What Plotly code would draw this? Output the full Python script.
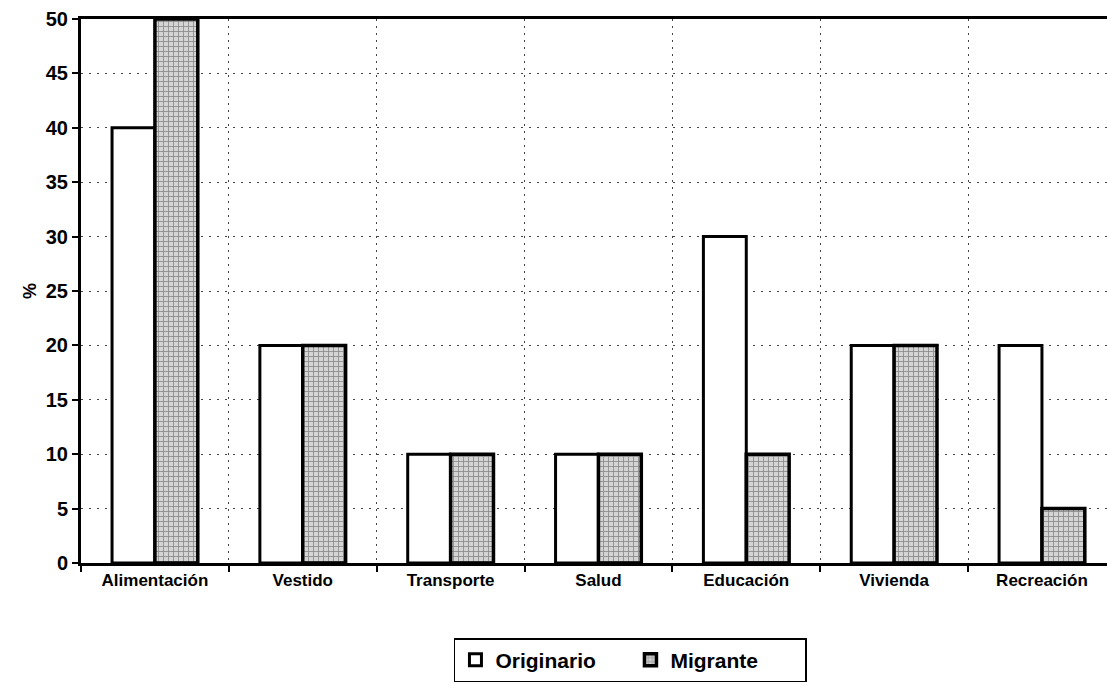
import plotly.graph_objects as go

categorias = ["Alimentación", "Vestido", "Transporte", "Salud", "Educación", "Vivienda", "Recreación"]
originario = [40, 20, 10, 10, 30, 20, 20]
migrante = [50, 20, 10, 10, 10, 20, 5]
y_ticks = [0, 5, 10, 15, 20, 25, 30, 35, 40, 45, 50]

font_fam = "Liberation Sans, Arial, sans-serif"

fig = go.Figure()
fig.add_trace(go.Bar(
    x=categorias, y=originario, name="Originario",
    marker=dict(color="white", line=dict(color="black", width=3)),
))
fig.add_trace(go.Bar(
    x=categorias, y=migrante, name="Migrante",
    marker=dict(color="#c0c0c0", line=dict(color="black", width=3.5),
                pattern=dict(shape="+", fgcolor="#3a3a3a", bgcolor="#d4d4d4",
                             size=5, solidity=0.3)),
))

fig.update_layout(
    width=1107, height=682,
    margin=dict(l=81, r=0, t=19, b=109),
    paper_bgcolor="white", plot_bgcolor="white",
    barmode="group", bargap=0.42, bargroupgap=0,
    showlegend=True,
    legend=dict(orientation="h", x=0.3635, y=-0.138, xanchor="left", yanchor="top",
                bordercolor="black", borderwidth=1.5, bgcolor="white",
                font=dict(family=font_fam, size=21, color="black", weight="bold"),
                itemwidth=30, entrywidth=130, tracegroupgap=0),
    font=dict(family=font_fam, color="black"),
    annotations=[dict(text="%", x=-0.0614, y=0.5, xref="paper", yref="paper",
                      showarrow=False, textangle=-90,
                      font=dict(family=font_fam, size=18, color="black", weight="bold"))],
)
fig.update_xaxes(
    range=[-0.5, 6.44], tickson="boundaries",
    showline=True, linecolor="black", linewidth=3, mirror=True,
    ticks="outside", ticklen=6, tickwidth=2, tickcolor="black",
    showgrid=True, gridcolor="#444444", gridwidth=1, griddash="2px,5px",
    tickfont=dict(family=font_fam, size=17, color="black", weight="bold"),
    automargin=False,
)
fig.update_yaxes(
    range=[0, 50], tickvals=y_ticks, ticktext=[str(v) for v in y_ticks],
    showline=True, linecolor="black", linewidth=3,
    ticks="outside", ticklen=6, tickwidth=2, tickcolor="black",
    showgrid=True, gridcolor="#444444", gridwidth=1, griddash="2px,6px",
    zeroline=False, automargin=False,
    tickfont=dict(family=font_fam, size=20, color="black", weight="bold"),
)

fig.write_html(
    "out.html",
    config={"displayModeBar": False},
    post_script="document.body.style.margin='0';document.body.style.overflow='hidden';",
)
